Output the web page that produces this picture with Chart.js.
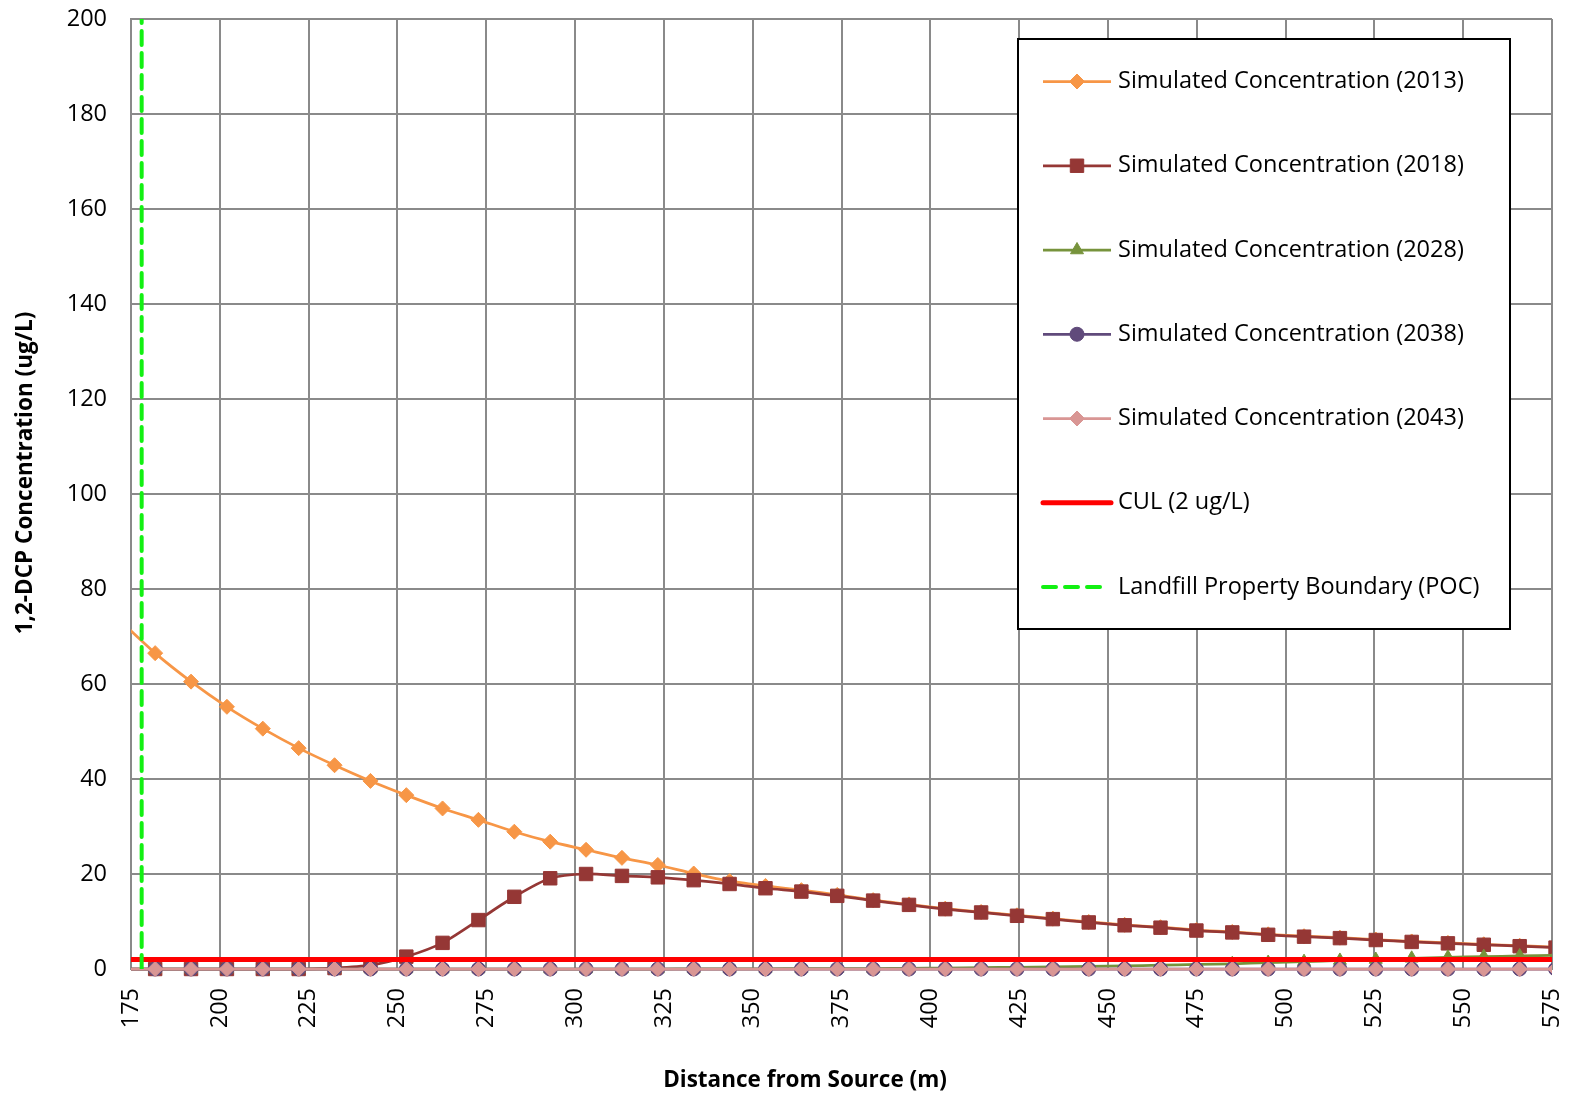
<!DOCTYPE html>
<html>
<head>
<meta charset="utf-8">
<title>1,2-DCP Concentration vs Distance from Source</title>
<script src="https://cdn.jsdelivr.net/npm/chart.js@4/dist/chart.umd.min.js"></script>
<style>
  html, body { margin: 0; padding: 0; background: #ffffff; }
  canvas { display: block; }
</style>
</head>
<body>
<canvas id="chart" width="1570" height="1097"></canvas>
<script>
// Model node distances from the source (m)
const distance = [171.7, 181.8, 191.9, 202.0, 212.1, 222.2, 232.3, 242.4, 252.5, 262.7,
                  272.8, 282.9, 293.0, 303.1, 313.2, 323.3, 333.4, 343.5, 353.6, 363.7,
                  373.8, 383.9, 394.0, 404.2, 414.3, 424.4, 434.5, 444.6, 454.7, 464.8,
                  474.9, 485.0, 495.1, 505.2, 515.3, 525.4, 535.5, 545.7, 555.8, 565.9, 576.0];

// Simulated 1,2-DCP concentrations (ug/L) at each node
const conc2013 = [73.5, 66.5, 60.5, 55.2, 50.6, 46.5, 42.9, 39.6, 36.6, 33.8,
                  31.4, 28.9, 26.8, 25.1, 23.4, 21.9, 20.1, 18.5, 17.5, 16.6,
                  15.6, 14.5, 13.6, 12.7, 12.0, 11.3, 10.6, 9.9, 9.3, 8.8,
                  8.2, 7.8, 7.3, 6.9, 6.6, 6.2, 5.8, 5.5, 5.2, 4.9, 4.6];
const conc2018 = [0, 0, 0, 0, 0, 0, 0.2, 0.8, 2.6, 5.5,
                  10.3, 15.2, 19.1, 20.0, 19.6, 19.3, 18.7, 17.9, 17.0, 16.3,
                  15.4, 14.4, 13.5, 12.6, 11.9, 11.2, 10.5, 9.8, 9.2, 8.7,
                  8.1, 7.7, 7.2, 6.8, 6.5, 6.1, 5.7, 5.4, 5.1, 4.8, 4.5];
const conc2028 = [0, 0, 0, 0, 0, 0, 0, 0, 0, 0,
                  0, 0, 0, 0, 0, 0, 0.02, 0.03, 0.05, 0.06,
                  0.08, 0.1, 0.15, 0.2, 0.3, 0.35, 0.45, 0.55, 0.65, 0.8,
                  0.95, 1.1, 1.35, 1.55, 1.8, 2.0, 2.25, 2.45, 2.6, 2.75, 2.9];
const conc2038 = [0, 0, 0, 0, 0, 0, 0, 0, 0, 0,
                  0, 0, 0, 0, 0, 0, 0, 0, 0, 0,
                  0, 0, 0, 0, 0, 0, 0, 0, 0, 0,
                  0, 0, 0, 0, 0, 0, 0, 0, 0, 0, 0];
const conc2043 = [0, 0, 0, 0, 0, 0, 0, 0, 0, 0,
                  0, 0, 0, 0, 0, 0, 0, 0, 0, 0,
                  0, 0, 0, 0, 0, 0, 0, 0, 0, 0,
                  0, 0, 0, 0, 0, 0, 0, 0, 0, 0, 0];

// Cleanup level and point of compliance
const culLevel = 2;
const culDistance = [175, 575];
const pocDistance = 178;
const pocConc = [0, 200];

// Axis ranges and tick spacing
const xRange = [175, 575];
const xStep = 25;
const yRange = [0, 200];
const yStep = 20;

const seriesLabels = [
  'Simulated Concentration (2013)',
  'Simulated Concentration (2018)',
  'Simulated Concentration (2028)',
  'Simulated Concentration (2038)',
  'Simulated Concentration (2043)',
  'CUL (2 ug/L)',
  'Landfill Property Boundary (POC)'
];

const FONT = '"Open Sans", "DejaVu Sans", sans-serif';
const GRID = '#8a8a8a';

function pairs(xs, ys) {
  return xs.map((x, i) => ({ x: x, y: ys[i] }));
}

function series(label, values, color, style, radius, order) {
  return {
    label: label,
    data: pairs(distance, values),
    borderColor: color,
    backgroundColor: color,
    borderWidth: 2.75,
    pointStyle: style,
    pointRadius: radius,
    pointBorderWidth: 1,
    pointBorderColor: color,
    pointBackgroundColor: color,
    tension: 0.25,
    order: order,
    clip: { left: 0, top: 0, right: 0, bottom: false }
  };
}

const datasets = [
  series(seriesLabels[0], conc2013, '#F79646', 'rectRot', 7.5, 6),
  series(seriesLabels[1], conc2018, '#953735', 'rect', 9.5, 5),
  series(seriesLabels[2], conc2028, '#77933C', 'triangle', 7.5, 4),
  series(seriesLabels[3], conc2038, '#604A7B', 'circle', 7, 3),
  series(seriesLabels[4], conc2043, '#D99694', 'rectRot', 7.5, 2),
  {
    label: seriesLabels[5],
    data: culDistance.map(x => ({ x: x, y: culLevel })),
    borderColor: '#FF0000',
    backgroundColor: '#FF0000',
    borderWidth: 5,
    pointRadius: 0,
    order: 1,
    clip: 0
  },
  {
    label: seriesLabels[6],
    data: pocConc.map(y => ({ x: pocDistance, y: y })),
    borderColor: '#12F012',
    backgroundColor: '#12F012',
    borderWidth: 4,
    borderDash: [14, 8],
    borderCapStyle: 'round',
    pointRadius: 0,
    order: 0,
    clip: 0
  }
];

function drawMarker(ctx, style, radius, x, y) {
  ctx.beginPath();
  if (style === 'rectRot') {
    ctx.moveTo(x - radius, y);
    ctx.lineTo(x, y - radius);
    ctx.lineTo(x + radius, y);
    ctx.lineTo(x, y + radius);
    ctx.closePath();
  } else if (style === 'rect') {
    const s = radius * Math.SQRT1_2;
    ctx.rect(x - s, y - s, 2 * s, 2 * s);
  } else if (style === 'triangle') {
    for (let i = 0; i < 3; i++) {
      const a = i * 2 * Math.PI / 3;
      const px = x + Math.sin(a) * radius;
      const py = y - Math.cos(a) * radius;
      if (i === 0) ctx.moveTo(px, py); else ctx.lineTo(px, py);
    }
    ctx.closePath();
  } else if (style === 'circle') {
    ctx.arc(x, y, radius, 0, Math.PI * 2);
  }
  ctx.fill();
  ctx.stroke();
}

// Framed legend inside the plot and the two axis titles
const decorations = {
  id: 'decorations',
  afterDraw(chart) {
    const ctx = chart.ctx;
    ctx.save();

    // legend frame
    const box = { x: 1018, y: 39, w: 492, h: 590 };
    ctx.fillStyle = '#ffffff';
    ctx.fillRect(box.x, box.y, box.w, box.h);
    ctx.lineWidth = 2;
    ctx.strokeStyle = '#000000';
    ctx.strokeRect(box.x, box.y, box.w, box.h);

    const rowTop = 81.5, rowStep = 84.25;
    const lineX0 = 1043, lineX1 = 1111, markX = 1077, textX = 1118;
    chart.data.datasets.forEach((ds, i) => {
      const y = rowTop + i * rowStep;
      ctx.save();
      ctx.strokeStyle = ds.borderColor;
      ctx.fillStyle = ds.backgroundColor;
      ctx.lineWidth = ds.borderWidth;
      ctx.lineCap = ds.borderDash ? 'round' : (ds.borderWidth >= 5 ? 'round' : 'butt');
      ctx.setLineDash(ds.borderDash ? [13, 9] : []);
      ctx.beginPath();
      ctx.moveTo(lineX0, y);
      ctx.lineTo(ds.borderDash ? 1104 : lineX1, y);
      ctx.stroke();
      ctx.setLineDash([]);
      if (ds.pointRadius > 0) {
        ctx.lineWidth = 1;
        drawMarker(ctx, ds.pointStyle, ds.pointRadius, markX, y);
      }
      ctx.restore();

      ctx.fillStyle = '#000000';
      ctx.font = '23.5px ' + FONT;
      ctx.textAlign = 'left';
      ctx.textBaseline = 'middle';
      ctx.fillText(ds.label, textX, y);
    });

    // axis titles
    ctx.fillStyle = '#000000';
    ctx.font = 'bold 22.5px ' + FONT;
    ctx.textAlign = 'center';
    ctx.textBaseline = 'middle';
    ctx.fillText('Distance from Source (m)', 805, 1081);

    ctx.save();
    ctx.translate(26, 473);
    ctx.rotate(-Math.PI / 2);
    ctx.fillText('1,2-DCP Concentration (ug/L)', 0, 0);
    ctx.restore();

    ctx.restore();
  }
};

function fixPadding(scale) {
  scale.paddingTop = 0;
  scale.paddingBottom = 0;
  scale.paddingLeft = 0;
  scale.paddingRight = 0;
}

new Chart(document.getElementById('chart'), {
  type: 'line',
  data: { datasets: datasets },
  plugins: [decorations],
  options: {
    responsive: false,
    animation: false,
    devicePixelRatio: 1,
    layout: { padding: { top: 19, right: 18, left: 0, bottom: 0 } },
    plugins: {
      legend: { display: false },
      tooltip: { enabled: false },
      title: { display: false }
    },
    scales: {
      x: {
        type: 'linear',
        min: xRange[0],
        max: xRange[1],
        afterFit(scale) { scale.height = 128; fixPadding(scale); },
        ticks: {
          stepSize: xStep,
          autoSkip: false,
          maxRotation: 90,
          minRotation: 90,
          padding: 19,
          color: '#000000',
          font: { family: FONT, size: 23.5 }
        },
        grid: { color: GRID, lineWidth: 2, drawTicks: false },
        border: { color: GRID, width: 2 }
      },
      y: {
        type: 'linear',
        min: yRange[0],
        max: yRange[1],
        afterFit(scale) { scale.width = 131; fixPadding(scale); },
        ticks: {
          stepSize: yStep,
          padding: 24,
          color: '#000000',
          font: { family: FONT, size: 23.5 }
        },
        grid: { color: GRID, lineWidth: 2, drawTicks: false },
        border: { color: GRID, width: 2 }
      }
    }
  }
});
</script>
</body>
</html>
